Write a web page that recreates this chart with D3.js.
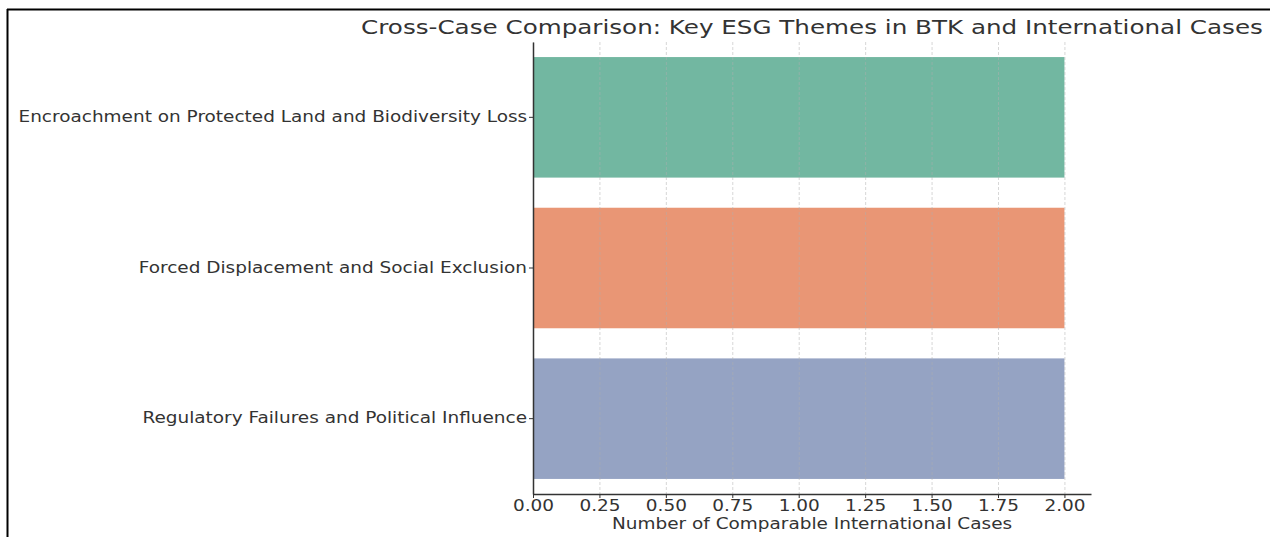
<!DOCTYPE html>
<html><head><meta charset="utf-8">
<script src="https://cdn.jsdelivr.net/npm/d3@7"></script>
<style>
body{margin:0;background:#fff;}
svg{display:block;font-family:"DejaVu Sans",sans-serif;}
</style></head>
<body><svg id="c" width="1270" height="537"></svg>
<script>
const categories = ["Encroachment on Protected Land and Biodiversity Loss","Forced Displacement and Social Exclusion","Regulatory Failures and Political Influence"];
const values = [2, 2, 2];
const colors = ["#72b7a1", "#e99675", "#95a3c3"];
const xTicks = [0, 0.25, 0.5, 0.75, 1.0, 1.25, 1.5, 1.75, 2.0];
const titleText = "Cross-Case Comparison: Key ESG Themes in BTK and International Cases";
const xLabel = "Number of Comparable International Cases";

const svg = d3.select("#c");
const L = 533, R = 1091, T = 42, B = 494;
const STRETCH = 1.23;
const x = d3.scaleLinear().domain([0, 2.1]).range([L, R]);
const y = d3.scaleBand().domain(categories).range([T, B]).paddingInner(0.2).paddingOuter(0.1);

// horizontally widen text (reference glyphs are wider than the rendered font)
function widen(sel, anchor) {
  sel.each(function() {
    const len = this.getComputedTextLength();
    const bb = this.getBBox();
    const nl = len * STRETCH;
    let sx;
    if (anchor === "end") sx = bb.x + bb.width - nl;
    else if (anchor === "middle") sx = bb.x + bb.width / 2 - nl / 2;
    else sx = bb.x;
    d3.select(this).attr("text-anchor", "start").attr("x", sx)
      .attr("textLength", nl).attr("lengthAdjust", "spacingAndGlyphs");
  });
}

// frame
svg.append("line").attr("x1",7).attr("x2",1270).attr("y1",9.5).attr("y2",9.5).attr("stroke","#000").attr("stroke-width",2);
svg.append("line").attr("x1",7.5).attr("x2",7.5).attr("y1",9).attr("y2",537).attr("stroke","#000").attr("stroke-width",2);

// bars
svg.selectAll("rect.bar").data(categories).enter().append("rect")
  .attr("x", x(0)).attr("y", d => y(d))
  .attr("width", (d,i) => x(values[i]) - x(0))
  .attr("height", y.bandwidth())
  .attr("fill", (d,i) => colors[i]);

// grid
svg.selectAll("line.grid").data(xTicks).enter().append("line")
  .attr("x1", d => x(d)+0.5).attr("x2", d => x(d)+0.5)
  .attr("y1", T).attr("y2", B)
  .attr("stroke", "#b0b0b0").attr("stroke-opacity", 0.5)
  .attr("stroke-dasharray", "3,2").attr("stroke-width", 1);

// x axis
const xa = svg.append("g").attr("transform", `translate(0,${B})`)
  .call(d3.axisBottom(x).tickValues(xTicks).tickFormat(d3.format(".2f")).tickSize(4).tickSizeOuter(0));
xa.select(".domain").attr("stroke","#333").attr("stroke-width",1.5);
xa.selectAll(".tick line").attr("stroke","#333");
xa.selectAll(".tick text").attr("font-size", 15).attr("fill","#333").attr("font-family","DejaVu Sans").attr("dy","0.75em").attr("y",6);
widen(xa.selectAll(".tick text"), "middle");

// y axis
const ya = svg.append("g").attr("transform", `translate(${L},0)`)
  .call(d3.axisLeft(y).tickSize(4).tickSizeOuter(0));
ya.select(".domain").attr("stroke","#333").attr("stroke-width",1.5);
ya.selectAll(".tick line").attr("stroke","#333");
ya.selectAll(".tick text").attr("font-size", 15).attr("fill","#333").attr("font-family","DejaVu Sans").attr("x",-6);
widen(ya.selectAll(".tick text"), "end");

// title & label
const tt = svg.append("text").attr("x",(L+R)/2).attr("y",34).attr("text-anchor","middle")
  .attr("font-size",20).attr("fill","#333").text(titleText);
widen(tt, "middle");
const xl = svg.append("text").attr("x",(L+R)/2).attr("y",529).attr("text-anchor","middle")
  .attr("font-size",15).attr("fill","#333").text(xLabel);
widen(xl, "middle");
</script></body></html>
